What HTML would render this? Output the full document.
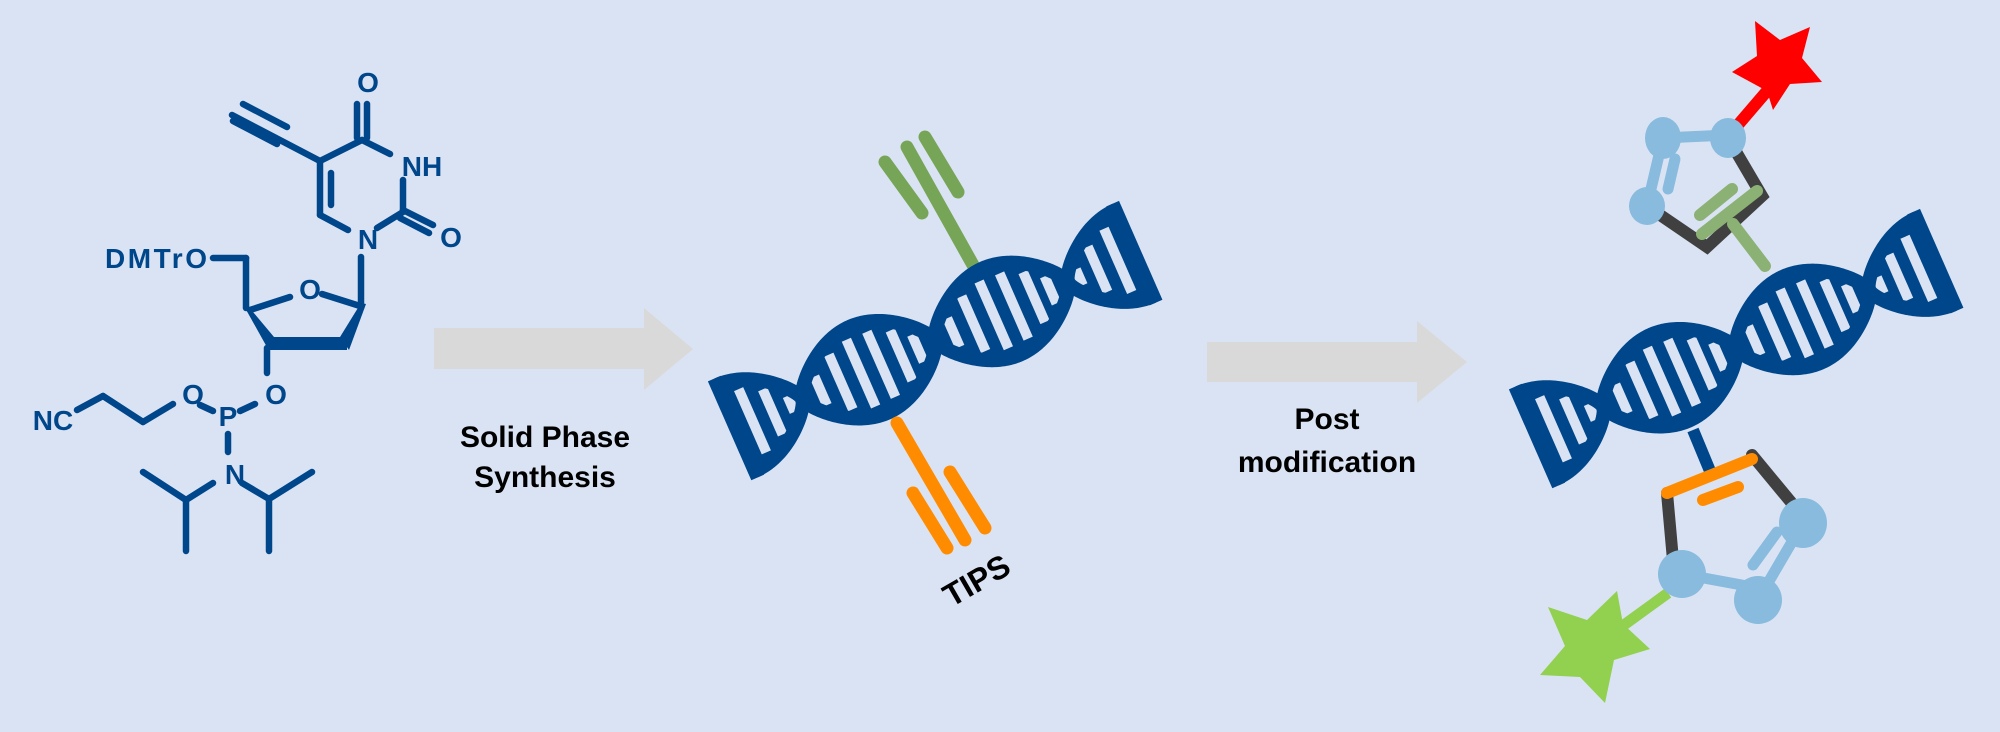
<!DOCTYPE html>
<html><head><meta charset="utf-8"><style>
html,body{margin:0;padding:0;background:#dae3f3;}
svg{display:block}
.t{font-family:"Liberation Sans",sans-serif;font-weight:bold}
</style></head><body>
<svg id="s" width="2000" height="732" viewBox="0 0 2000 732" xmlns="http://www.w3.org/2000/svg">
<rect width="2000" height="732" fill="#dae3f3"/>
<!-- chemistry -->
<g stroke="#00468b" stroke-width="6.5" stroke-linecap="round" fill="none">
<line x1="320" y1="161" x2="232" y2="115"/>
<line x1="287" y1="127" x2="243" y2="104"/>
<line x1="277" y1="144" x2="233" y2="121"/>
<line x1="320" y1="161" x2="362" y2="140"/>
<line x1="357" y1="104" x2="357" y2="138"/>
<line x1="367" y1="104" x2="367" y2="138"/>
<line x1="362" y1="140" x2="390" y2="154"/>
<line x1="403" y1="180" x2="403" y2="210"/>
<line x1="403" y1="210" x2="433" y2="225"/>
<line x1="400" y1="218" x2="429" y2="233"/>
<line x1="403" y1="212" x2="377" y2="228"/>
<line x1="320" y1="161" x2="320" y2="215"/>
<line x1="331" y1="173" x2="331" y2="205"/>
<line x1="320" y1="215" x2="348" y2="230"/>
<line x1="361" y1="257" x2="361" y2="308"/>
<line x1="213" y1="258" x2="246" y2="258"/>
<line x1="246" y1="258" x2="246" y2="308"/>
<line x1="250" y1="310" x2="290" y2="297"/>
<line x1="322" y1="294" x2="360" y2="306"/>
<line x1="267" y1="348" x2="267" y2="373"/>
<line x1="255" y1="404" x2="240" y2="411"/>
<line x1="213" y1="411" x2="200" y2="405"/>
<line x1="173" y1="404" x2="143" y2="422"/>
<line x1="143" y1="422" x2="103" y2="396"/>
<line x1="103" y1="396" x2="77" y2="410"/>
<line x1="228" y1="434" x2="228" y2="452"/>
<line x1="213" y1="483" x2="186" y2="500"/>
<line x1="186" y1="500" x2="143" y2="472"/>
<line x1="186" y1="500" x2="186" y2="551"/>
<line x1="242" y1="483" x2="269" y2="499"/>
<line x1="269" y1="499" x2="312" y2="472"/>
<line x1="269" y1="499" x2="269" y2="551"/>
</g>
<g fill="#00468b">
<polygon points="244,306 248,306 274,337 268,349"/>
<rect x="268" y="337" width="79" height="13"/>
<polygon points="361,303 366,304 349,350 340,337"/>
</g>
<g class="t" fill="#00468b" font-size="28">
<text x="368" y="92" text-anchor="middle">O</text>
<text x="422" y="176" text-anchor="middle">NH</text>
<text x="451" y="247" text-anchor="middle">O</text>
<text x="368" y="249" text-anchor="middle">N</text>
<text x="105" y="268" textLength="102">DMTrO</text>
<text x="310" y="299" text-anchor="middle">O</text>
<text x="276" y="404" text-anchor="middle">O</text>
<text x="193" y="404" text-anchor="middle">O</text>
<text x="228" y="426" text-anchor="middle">P</text>
<text x="235" y="484" text-anchor="middle">N</text>
<text x="53" y="430" text-anchor="middle">NC</text>
</g>
<!-- arrows -->
<polygon points="434,328 644,328 644,308 693,349 644,390 644,369 434,369" fill="#d9d9d9"/>
<polygon points="1207,342 1417,342 1417,321 1467,362 1417,403 1417,382 1207,382" fill="#d9d9d9"/>
<g class="t" fill="#000" font-size="30" text-anchor="middle">
<text x="545" y="447">Solid Phase</text>
<text x="545" y="487">Synthesis</text>
<text x="1327" y="429">Post</text>
<text x="1327" y="472">modification</text>
</g>
<!-- DNA1 decorations -->
<g stroke-linecap="round" stroke-width="13" fill="none">
<g stroke="#77a557">
<line x1="885" y1="162" x2="922" y2="213"/>
<line x1="907" y1="147" x2="973" y2="265"/>
<line x1="925" y1="137" x2="958" y2="192"/>
</g>
</g>
<g id="dna1" transform="translate(736,428) rotate(-23.7)"></g>
<g stroke-linecap="round" stroke-width="13" fill="none" stroke="#ff8c00">
<line x1="897" y1="423" x2="965" y2="540"/>
<line x1="913" y1="493" x2="947" y2="548"/>
<line x1="950" y1="472" x2="985" y2="528"/>
</g>
<text class="t" font-size="32" fill="#000" transform="translate(982,590) rotate(-30)" text-anchor="middle">TIPS</text>
<!-- DNA2 decorations -->
<line x1="1767" y1="91" x2="1737" y2="126" stroke="#ff0000" stroke-width="12"/>
<polygon fill="#ff0000" points="1755,21 1780,40 1810,27 1802,58 1822,82 1790,84 1773,110 1767,91 1732,72 1757,56"/>
<line x1="1693" y1="430" x2="1710" y2="471" stroke="#00468b" stroke-width="12"/>
<line x1="1668" y1="593" x2="1617" y2="630" stroke="#92d050" stroke-width="11"/>
<polygon fill="#92d050" points="1617,591 1623,624 1650,649 1614,660 1605,703 1580,677 1540,675 1565,646 1548,607 1587,620"/>
<g stroke-linecap="round" fill="none">
<g stroke="#404040" stroke-width="12">
<polyline points="1728,138 1762,196 1707,247 1647,206"/>
<polyline points="1752,455 1795,507"/>
<polyline points="1667,493 1673,560"/>
</g>
<g stroke="#88bbdd" stroke-width="11">
<line x1="1663" y1="138" x2="1728" y2="135"/>
<line x1="1663" y1="138" x2="1647" y2="206"/>
<line x1="1675" y1="159" x2="1668" y2="189"/>
<line x1="1682" y1="574" x2="1758" y2="588"/>
<line x1="1758" y1="600" x2="1803" y2="523"/>
<line x1="1753" y1="565" x2="1777" y2="532"/>
</g>
<g stroke="#8bb174" stroke-width="12">
<line x1="1757" y1="191" x2="1702" y2="234"/>
<line x1="1732" y1="189" x2="1700" y2="215"/>
<line x1="1733" y1="224" x2="1765" y2="266"/>
</g>
<g stroke="#ff8c00" stroke-width="12">
<line x1="1667" y1="493" x2="1752" y2="459"/>
<line x1="1703" y1="500" x2="1738" y2="487"/>
</g>
</g>
<g fill="#88bbdd">
<ellipse cx="1663" cy="138" rx="18" ry="21"/>
<ellipse cx="1728" cy="138" rx="18" ry="20"/>
<ellipse cx="1647" cy="206" rx="18" ry="19"/>
<ellipse cx="1803" cy="523" rx="24" ry="25"/>
<ellipse cx="1682" cy="574" rx="24" ry="24"/>
<ellipse cx="1758" cy="600" rx="24" ry="24"/>
</g>
<g id="dna2" transform="translate(1537,436) rotate(-23.7)"></g>
</svg>
<script>
(function(){
var NS="http://www.w3.org/2000/svg",L=145,A=47,W=435,B="#00468b",BG="#dae3f3";
function Y(x){var c=Math.cos(Math.PI*x/L);return -A*(c<0?-1:1)*Math.pow(Math.abs(c),0.7);}
function build(g){
 var up=[],dn=[];
 for(var x=0;x<=W;x+=1.5){var y=Y(x);up.push([x,y]);dn.push([x,-y]);}
 var d="M"+up.map(function(p){return p[0]+","+p[1]}).join(" L")+" L"+dn.slice().reverse().map(function(p){return p[0]+","+p[1]}).join(" L")+"Z";
 var f=document.createElementNS(NS,"path");f.setAttribute("d",d);f.setAttribute("fill",B);g.appendChild(f);
 var xs=[18,40,60];
 for(var k=1;k<=2;k++){var s=(k-0.5)*L; xs=xs.concat([s+20,s+42,s+64,s+86,s+108,s+126]);}
 xs=xs.concat([W-18,W-40,W-60]);
 xs.forEach(function(x){
   var h=Math.abs(Y(x))-10; if(h<4)return;
   var r=document.createElementNS(NS,"rect");
   r.setAttribute("x",x-5);r.setAttribute("width",10);r.setAttribute("y",-h);r.setAttribute("height",2*h);
   r.setAttribute("fill",BG);g.appendChild(r);
 });
 [up,dn].forEach(function(a){
  var p=document.createElementNS(NS,"path");
  p.setAttribute("d","M"+a.map(function(q){return q[0]+","+q[1]}).join(" L"));
  p.setAttribute("fill","none");p.setAttribute("stroke",B);p.setAttribute("stroke-width",14);g.appendChild(p);
 });
 [0,W].forEach(function(e){var r=document.createElementNS(NS,"rect");
  r.setAttribute("x",e-7);r.setAttribute("width",14);r.setAttribute("y",-A-7);r.setAttribute("height",2*A+14);r.setAttribute("fill",B);g.appendChild(r);});
}
build(document.getElementById("dna1"));build(document.getElementById("dna2"));
})();
</script>
</body></html>
